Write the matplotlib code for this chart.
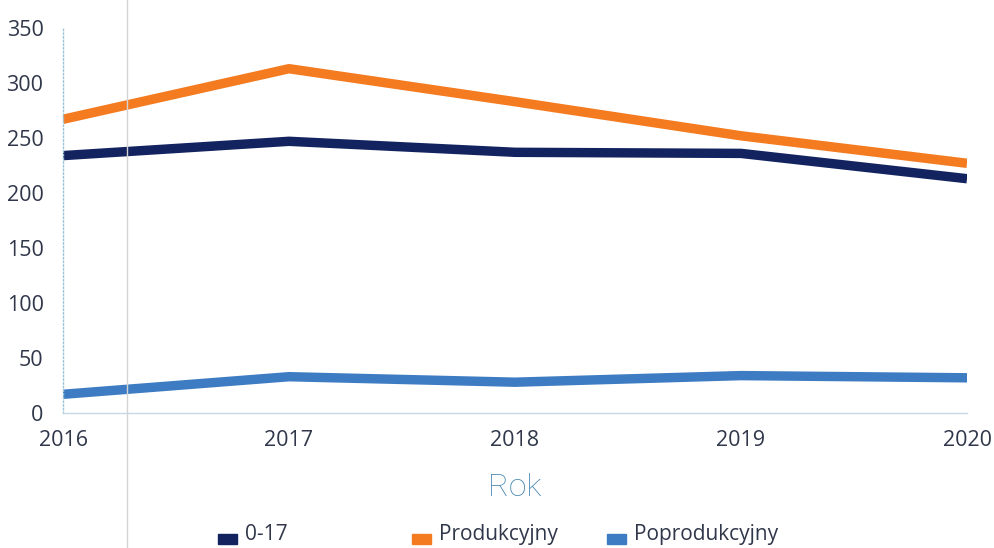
import matplotlib.pyplot as plt
from matplotlib.patches import Rectangle
from matplotlib.lines import Line2D

# data
years = [2016, 2017, 2018, 2019, 2020]
age_0_17 = [234, 247, 237, 236, 213]
produkcyjny = [267, 313, 283, 252, 227]
poprodukcyjny = [17, 33, 28, 34, 32]

series_names = ['0-17', 'Produkcyjny', 'Poprodukcyjny']
series_colors = ['#13235f', '#f47b20', '#3d7cc2']
y_ticks = [0, 50, 100, 150, 200, 250, 300, 350]

plt.rcParams['font.family'] = ['Open Sans', 'DejaVu Sans']

fig = plt.figure(figsize=(9.94, 5.48), dpi=100)
ax = fig.add_axes([63 / 994, 1 - 413 / 548, 904 / 994, 385 / 548])

for vals, col in zip([age_0_17, produkcyjny, poprodukcyjny], series_colors):
    ax.plot(years, vals, color=col, lw=6.8, solid_capstyle='butt',
            solid_joinstyle='round')

ax.set_xlim(2016, 2020)
ax.set_ylim(0, 350)
ax.set_xticks(years)
ax.set_yticks(y_ticks)
ax.tick_params(axis='both', length=0, labelsize=15.5, labelcolor='#30374a')
ax.tick_params(axis='x', pad=12)
ax.tick_params(axis='y', pad=14)

for s in ['top', 'right']:
    ax.spines[s].set_visible(False)
ax.spines['left'].set_color('#9cc4d8')
ax.spines['left'].set_linestyle(':')
ax.spines['left'].set_linewidth(1)
ax.spines['bottom'].set_color('#c8d8e4')
ax.spines['bottom'].set_linewidth(1)

ax.set_xlabel('Rok', fontsize=23, color='#4a88b3', labelpad=16,
              family=['Roboto', 'DejaVu Sans'], fontweight='light',
              fontstretch='condensed')

# scan artifact: faint vertical line
fig.add_artist(Line2D([127 / 994, 127 / 994], [0, 1], color='#d4d4d4', lw=1,
                      transform=fig.transFigure))

# legend at the bottom
leg_x = [218, 412, 607]
for x, name, col in zip(leg_x, series_names, series_colors):
    fig.add_artist(Rectangle((x / 994, 1 - 544 / 548), 19 / 994, 10 / 548,
                             color=col, transform=fig.transFigure))
    fig.text((x + 27) / 994, 1 - 540 / 548, name, fontsize=15,
             color='#30374a', va='baseline', ha='left')

fig.savefig('out.png', dpi=100)
